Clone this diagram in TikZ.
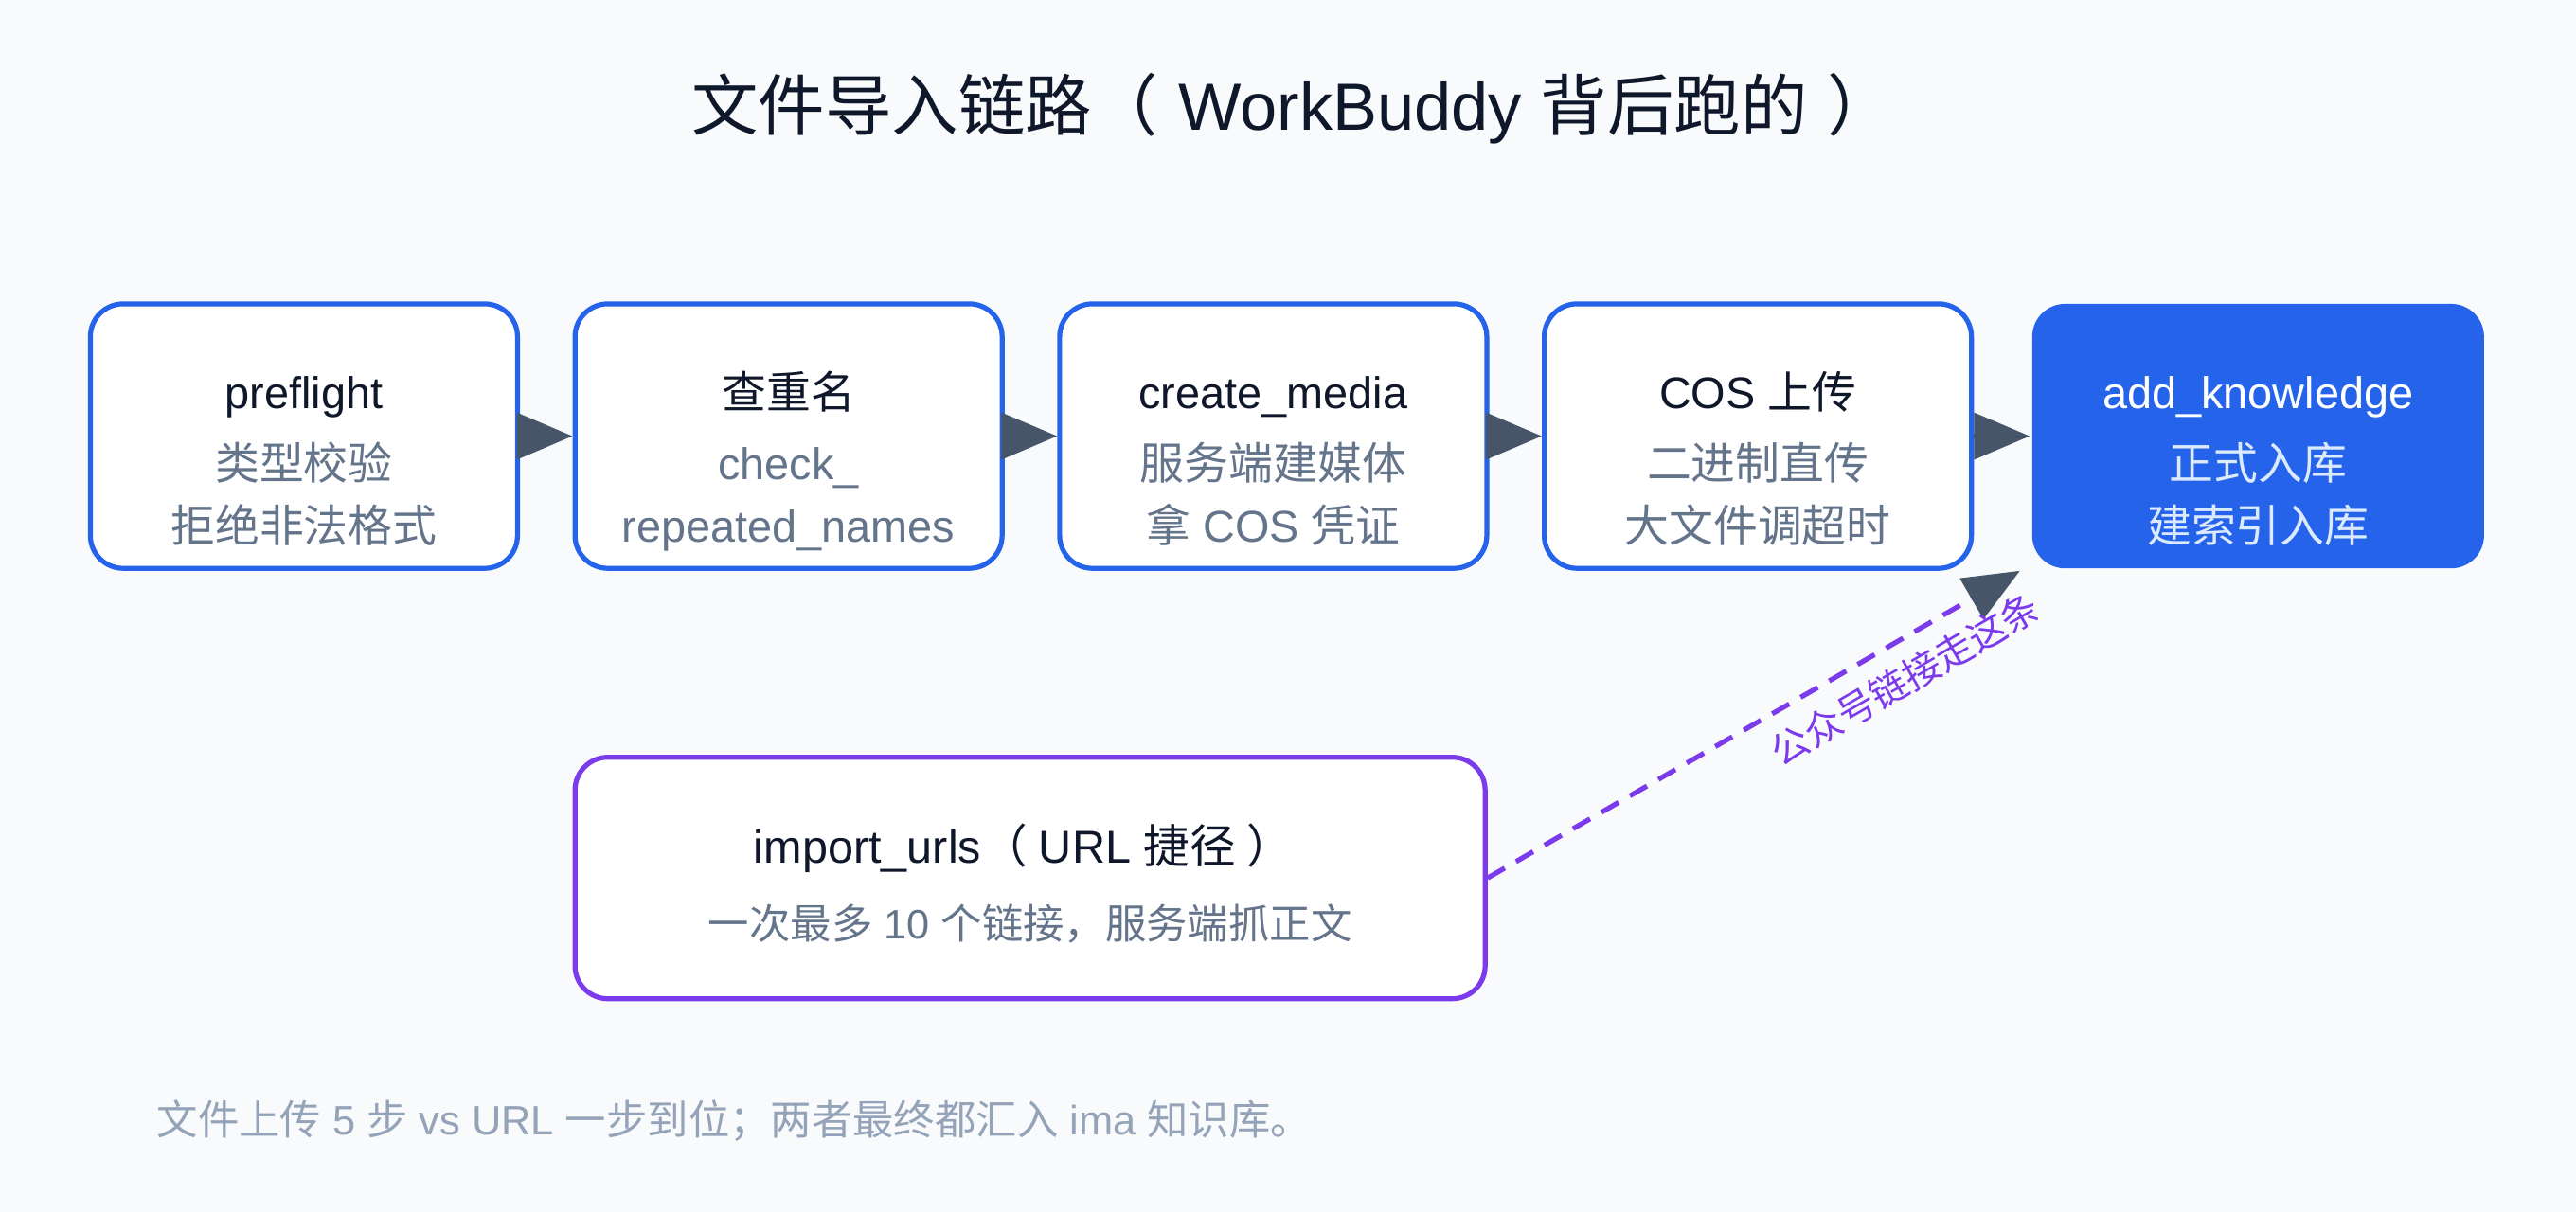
\documentclass[tikz,border=0pt]{standalone}
\usepackage{fontspec}
\setmainfont{Liberation Sans}
\newfontfamily\cjk{Noto Sans CJK SC}
\usetikzlibrary{arrows.meta}

\definecolor{paper}{HTML}{F8FAFC}
\definecolor{ink}{HTML}{0F172A}
\definecolor{muted}{HTML}{64748B}
\definecolor{faint}{HTML}{94A3B8}
\definecolor{stepblue}{HTML}{2563EB}
\definecolor{urlpurple}{HTML}{7C3AED}
\definecolor{slate}{HTML}{475569}
\definecolor{palesky}{HTML}{DBEAFE}

\begin{document}
\begin{tikzpicture}[x=0.5pt, y=-0.5pt, line width=1.5pt,
  stepbox/.style={draw=stepblue, fill=white, rounded corners=10pt, minimum width=130pt, minimum height=80.5pt, inner sep=0pt},
  boxtitle/.style={anchor=base, text=ink, inner sep=0pt, font=\fontsize{13.5}{16}\selectfont},
  boxtext/.style={anchor=base, text=muted, inner sep=0pt, font=\fontsize{13.5}{16}\selectfont},
  flow/.style={draw=slate, -{Triangle[length=17pt, width=14pt]}},
  urlflow/.style={draw=urlpurple, dash pattern=on 6pt off 4pt, -{Triangle[length=17pt, width=14pt, color=slate, fill=slate]}}]

\path[use as bounding box, fill=paper] (0,0) rectangle (1568,738);

\node[anchor=base, text=ink, font=\fontsize{20.3}{24}\selectfont] (title) at (787,79)
  {{\cjk 文件导入链路（}\hspace{0.3em}WorkBuddy {\cjk 背后跑的}\hspace{0.3em}{\cjk ）}};

% file upload steps
\node[stepbox] (pre) at (185,265.5) {};
\node[boxtitle] (pre-t) at (185,249) {preflight};
\node[boxtext] (pre-a) at (185,292) {\cjk 类型校验};
\node[boxtext] (pre-b) at (185,330) {\cjk 拒绝非法格式};

\node[stepbox] (dup) at (480,265.5) {};
\node[boxtitle] (dup-t) at (480,249) {\cjk 查重名};
\node[boxtext] (dup-a) at (480,292) {check\_};
\node[boxtext] (dup-b) at (480,330) {repeated\_names};

\node[stepbox] (media) at (775,265.5) {};
\node[boxtitle] (media-t) at (775,249) {create\_media};
\node[boxtext] (media-a) at (775,292) {\cjk 服务端建媒体};
\node[boxtext] (media-b) at (775,330) {{\cjk 拿} COS {\cjk 凭证}};

\node[stepbox] (cos) at (1070,265.5) {};
\node[boxtitle] (cos-t) at (1070,249) {COS {\cjk 上传}};
\node[boxtext] (cos-a) at (1070,292) {\cjk 二进制直传};
\node[boxtext] (cos-b) at (1070,330) {\cjk 大文件调超时};

\node[stepbox, draw=none, fill=stepblue, minimum width=137.5pt] (add) at (1374.5,265.5) {};
\node[boxtitle, text=white] (add-t) at (1374.5,249) {add\_knowledge};
\node[boxtext, text=palesky] (add-a) at (1374.5,292) {\cjk 正式入库};
\node[boxtext, text=palesky] (add-b) at (1374.5,330) {\cjk 建索引入库};

\draw[flow] (pre) -- (dup);
\draw[flow] (dup) -- (media);
\draw[flow] (media) -- (cos);
\draw[flow] (cos) -- (add);

% url shortcut
\node[stepbox, draw=urlpurple, minimum width=277pt, minimum height=73.5pt] (urls) at (627,534.5) {};
\node[boxtitle, font=\fontsize{14}{17}\selectfont] (urls-t) at (623,525.5)
  {import\_urls{\cjk （}\hspace{0.25em}URL {\cjk 捷径}\hspace{0.25em}{\cjk ）}};
\node[boxtext, font=\fontsize{12.5}{15}\selectfont] (urls-a) at (627,571.5)
  {{\cjk 一次最多} 10 {\cjk 个链接，服务端抓正文}};

\draw[urlflow] (urls.east) -- ([xshift=-3pt]add.south west)
  node[pos=0.75, sloped, below, inner sep=5pt, text=urlpurple, font=\fontsize{11.5}{14}\selectfont] (urltag)
  {\cjk 公众号链接走这条};

\node[anchor=base west, text=faint, inner sep=0pt, font=\fontsize{12.5}{15}\selectfont] (note) at (94,691)
  {{\cjk 文件上传} 5 {\cjk 步} vs URL {\cjk 一步到位；两者最终都汇入} ima {\cjk 知识库。}};

\end{tikzpicture}
\end{document}
